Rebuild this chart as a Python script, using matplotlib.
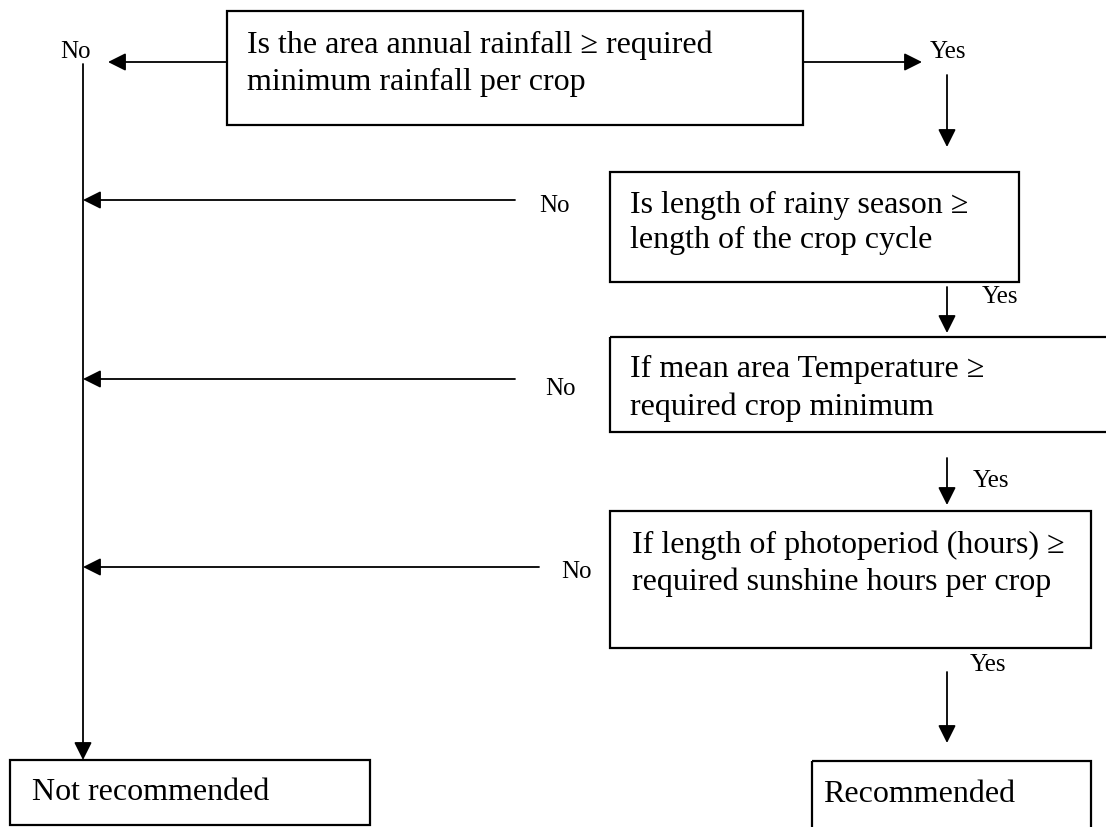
import matplotlib.pyplot as plt
from matplotlib.patches import Rectangle

plt.rcParams['font.family'] = ['Liberation Serif', 'DejaVu Serif']

# decision texts, top to bottom
questions = [
    ["Is the area annual rainfall \u2265 required", "minimum rainfall per crop"],
    ["Is length of rainy season \u2265", "length of the crop cycle"],
    ["If mean area Temperature \u2265", "required crop minimum"],
    ["If length of photoperiod (hours) \u2265", "required sunshine hours per crop"],
]
outcomes = ["Not recommended", "Recommended"]
yes_label = "Yes"
no_label = "No"

# layout in pixels (x0, y0, x1, y1), y grows downwards
q_boxes = [(227, 11, 803, 125), (610, 172, 1019, 282),
           (610, 337, 1112, 432), (610, 511, 1091, 648)]
q_text_x = [247, 630, 630, 632]
q_base = [(53, 90), (213, 248), (377, 415), (553, 590)]
out_boxes = [(10, 760, 370, 825), (812, 761, 1091, 830)]
out_text = [(32, 800), (823, 802)]

BIG = 23
SMALL = 18
LW = 1.3

fig = plt.figure(figsize=(11.06, 8.27), dpi=100)
ax = fig.add_axes([0, 0, 1, 1])
ax.set_xlim(0, 1106)
ax.set_ylim(827, 0)
ax.axis('off')


def arrow(x0, y0, x1, y1):
    ax.annotate("", xy=(x1, y1), xytext=(x0, y0),
                arrowprops=dict(arrowstyle='-|>,head_length=0.9,head_width=0.45',
                                mutation_scale=12, lw=LW, color='black',
                                shrinkA=0, shrinkB=0))


def box(b):
    x0, y0, x1, y1 = b
    ax.add_patch(Rectangle((x0, y0), x1 - x0, y1 - y0, fill=False,
                           lw=LW + 0.3, ec='black'))


for b, tx, (b1, b2), lines in zip(q_boxes, q_text_x, q_base, questions):
    box(b)
    ax.text(tx, b1, lines[0], fontsize=BIG, va='baseline', ha='left')
    ax.text(tx, b2, lines[1], fontsize=BIG, va='baseline', ha='left')

for b, (tx, ty), s in zip(out_boxes, out_text, outcomes):
    box(b)
    ax.text(tx, ty, s, fontsize=BIG, va='baseline', ha='left')

# top decision: No to the left, Yes to the right
arrow(227, 62, 108, 62)
ax.text(60, 58, no_label, fontsize=SMALL, va='baseline')
arrow(803, 62, 922, 62)
ax.text(930, 58, yes_label, fontsize=SMALL, va='baseline')

# left trunk down to "Not recommended"
arrow(83, 64, 83, 760)

# No branches back to the trunk
no_rows = [(200, 515, 539, 212), (379, 515, 545, 395), (567, 539, 561, 578)]
for y, xend, lx, ly in no_rows:
    arrow(xend, y, 83, y)
    ax.text(lx, ly, no_label, fontsize=SMALL, va='baseline')

# Yes arrows down the right column
yes_arrows = [(75, 147), (287, 333), (458, 505), (672, 743)]
yes_text = [None, (982, 303), (973, 487), (970, 671)]
for (ya, yb), t in zip(yes_arrows, yes_text):
    arrow(947, ya, 947, yb)
    if t:
        ax.text(t[0], t[1], yes_label, fontsize=SMALL, va='baseline')

fig.savefig('out.png', dpi=100)
